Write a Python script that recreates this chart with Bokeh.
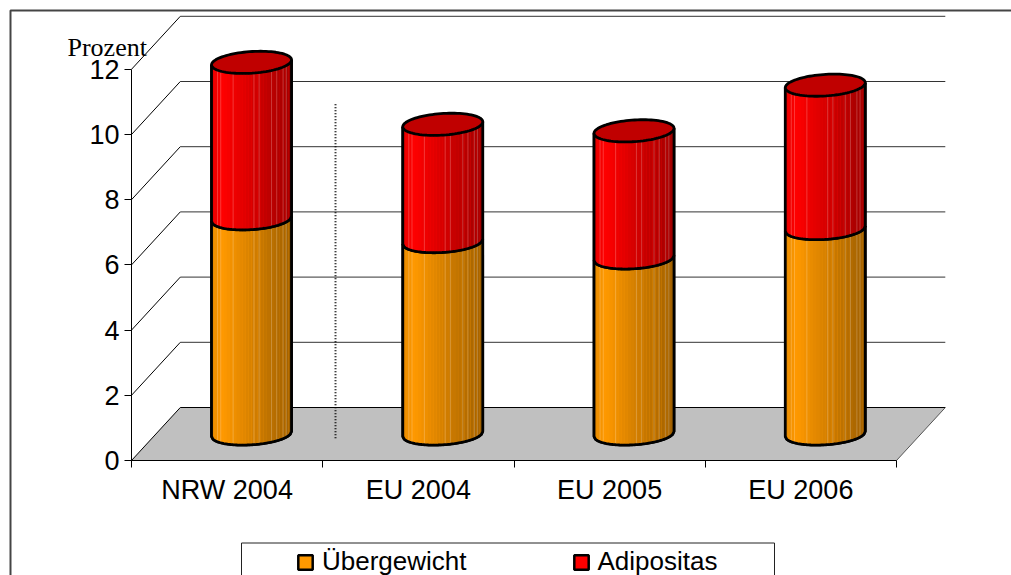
from bokeh.plotting import figure
from bokeh.models import (Range1d, LinearAxis, FixedTicker, Legend, LegendItem,
                          BoxAnnotation, Label)
from bokeh.embed import file_html
from bokeh.resources import INLINE
import numpy as np

categories = ["NRW 2004", "EU 2004", "EU 2005", "EU 2006"]
uebergewicht = [6.6, 5.9, 5.4, 6.3]
adipositas = [4.8, 3.6, 3.9, 4.4]
y_ticks = [0, 2, 4, 6, 8, 10, 12]
series_names = ["Übergewicht", "Adipositas"]
series_colors = [(255, 153, 0), (255, 0, 0)]
top_color = "#C00000"
separator_x = 1.0667
separator_y = (0.68, 10.93)

PX_U, PX_V = 191.25, 32.6          # pixels per category / per value unit
DEPTH_U, DEPTH_V = 48.8 / PX_U, 53.0 / PX_V
A_U, B_V, S_V = 40.0 / PX_U, 10.8 / PX_V, 2.5 / PX_V   # cylinder ellipse
N_STRIPS = 26
SEAMS = [-0.85, -0.77, -0.46, 0.06, 0.19, 0.5, 0.63, 0.79, 0.87]
W, H = 1011, 575
LEFT, BOTTOM = 131, 115

p = figure(width=W, height=H, output_backend="svg", toolbar_location=None,
           x_axis_type=None, y_axis_type=None,
           min_border_left=0, min_border_right=0, min_border_top=0,
           min_border_bottom=0,
           x_range=Range1d(-LEFT / PX_U, (W - LEFT) / PX_U),
           y_range=Range1d(-BOTTOM / PX_V, (H - BOTTOM) / PX_V))
p.outline_line_color = None
p.grid.visible = False
p.background_fill_color = "white"
p.border_fill_color = "white"

x_axis = LinearAxis(
    fixed_location=0,
    ticker=FixedTicker(ticks=[i + 0.5 for i in range(len(categories))],
                       minor_ticks=list(range(len(categories) + 1))),
    major_label_overrides={i + 0.5: c for i, c in enumerate(categories)},
    bounds=(0, len(categories)),
    major_tick_in=0, major_tick_out=0, minor_tick_in=0, minor_tick_out=7,
    major_label_text_font="Liberation Sans", major_label_text_font_size="27px",
    major_label_text_color="black", major_label_standoff=7,
    axis_line_color="black", minor_tick_line_color="black")
y_axis = LinearAxis(
    fixed_location=0,
    ticker=FixedTicker(ticks=y_ticks), bounds=(0, y_ticks[-1]),
    major_tick_in=0, major_tick_out=7, minor_tick_in=0, minor_tick_out=0,
    major_label_text_font="Liberation Sans", major_label_text_font_size="27px",
    major_label_text_color="black", major_label_standoff=5,
    axis_line_color="black", major_tick_line_color="black")
p.add_layout(x_axis, "below")
p.add_layout(y_axis, "left")

# floor
n = len(categories)
p.patch([0, n, n + DEPTH_U, DEPTH_U], [0, 0, DEPTH_V, DEPTH_V],
        fill_color="#C0C0C0", line_color=None)
p.multi_line([[DEPTH_U, n + DEPTH_U], [0, DEPTH_U], [n, n + DEPTH_U]],
             [[DEPTH_V, DEPTH_V], [0, DEPTH_V], [0, DEPTH_V]],
             line_color=["black", "black", "#555555"], line_width=1)

# walls
levels = y_ticks[1:]
p.multi_line([[DEPTH_U, n + DEPTH_U] for _ in levels],
             [[v + DEPTH_V, v + DEPTH_V] for v in levels],
             line_color="#333333", line_width=1)
p.multi_line([[0, DEPTH_U] for _ in levels],
             [[v, v + DEPTH_V] for v in levels],
             line_color="black", line_width=1)

# separator
p.line([separator_x, separator_x], list(separator_y),
       line_color="black", line_width=2, line_dash="1 2")


def lower_arc(u):
    """vertical offset (value units) of the near side of the ellipse at u in [-1, 1]"""
    return S_V * u - B_V * np.sqrt(np.clip(1 - u * u, 0, 1))


def shade(t):
    return np.interp(t, [0, 0.14, 0.45, 1], [0.90, 1.0, 0.86, 0.62])


def to_hex(c, f):
    return "#%02x%02x%02x" % tuple(int(round(v * f)) for v in c)


bottoms = [0.0] * n
stack = [uebergewicht, adipositas]
legend_items = []
for name, col, vals in zip(series_names, series_colors, stack):
    body_xs, body_ys, strip_xs, strip_ys, strip_cols = [], [], [], [], []
    line_xs, line_ys, seam_xs, seam_ys = [], [], [], []
    for i in range(n):
        cx = i + 0.5 + DEPTH_U / 2
        v0, v1 = bottoms[i], bottoms[i] + vals[i]
        us_all = np.linspace(-1, 1, 60)
        xs = cx + A_U * us_all
        base = v0 + DEPTH_V / 2 + lower_arc(us_all)
        top = v1 + DEPTH_V / 2 + lower_arc(us_all)
        body_xs.append(np.r_[xs, xs[::-1]])
        body_ys.append(np.r_[base, top[::-1]])
        edges = np.linspace(-1, 1, N_STRIPS + 1)
        for a, b in zip(edges[:-1], edges[1:]):
            us = np.linspace(a, b, 5)
            xx = cx + A_U * us
            lo = v0 + DEPTH_V / 2 + lower_arc(us)
            hi = v1 + DEPTH_V / 2 + lower_arc(us)
            strip_xs.append(np.r_[xx, xx[::-1]])
            strip_ys.append(np.r_[lo, hi[::-1]])
            strip_cols.append(to_hex(col, shade((a + b + 2) / 4)))
        for s in SEAMS:
            seam_xs.append([cx + A_U * s, cx + A_U * s])
            seam_ys.append([v0 + DEPTH_V / 2 + lower_arc(s), v1 + DEPTH_V / 2 + lower_arc(s)])
        # outline: sides and near bottom arc
        line_xs.append(np.r_[xs[0], xs, xs[-1]])
        line_ys.append(np.r_[top[0], base, top[-1]])
        bottoms[i] = v1
    r = p.patches(body_xs, body_ys, fill_color=to_hex(col, 1.0),
                  line_color="black", line_width=2.5)
    p.patches(strip_xs, strip_ys, fill_color=strip_cols, line_color=None)
    p.multi_line(seam_xs, seam_ys, line_color="white", line_alpha=0.22, line_width=1)
    p.multi_line(line_xs, line_ys, line_color="black", line_width=2.8)
    legend_items.append(LegendItem(label=name, renderers=[r]))

# top faces
t = np.linspace(0, 2 * np.pi, 90)
top_xs, top_ys = [], []
for i in range(n):
    cx = i + 0.5 + DEPTH_U / 2
    top_xs.append(cx + A_U * np.cos(t))
    top_ys.append(bottoms[i] + DEPTH_V / 2 + S_V * np.cos(t) + B_V * np.sin(t))
p.patches(top_xs, top_ys, fill_color=top_color, line_color="black", line_width=2.8)

# chart border and legend frame (canvas pixels)
p.add_layout(BoxAnnotation(left=10, right=W + 20, top=10, bottom=H + 20,
                           left_units="canvas", right_units="canvas",
                           top_units="canvas", bottom_units="canvas",
                           fill_alpha=0, line_color="#444444", line_alpha=1, line_width=2,
                           level="underlay"))
p.add_layout(BoxAnnotation(left=241, right=774, top=542.5, bottom=H + 20,
                           left_units="canvas", right_units="canvas",
                           top_units="canvas", bottom_units="canvas",
                           fill_color="white", fill_alpha=1,
                           line_color="#222222", line_alpha=1, line_width=1))

legend = Legend(items=legend_items, orientation="horizontal",
                location=(296, -2), padding=0, margin=0, spacing=105,
                glyph_width=18, glyph_height=18, label_standoff=8,
                label_text_font="Liberation Sans", label_text_font_size="26px",
                label_text_color="black", label_height=18,
                background_fill_alpha=0, border_line_alpha=0)
p.add_layout(legend, "center")

p.add_layout(Label(x=-64 / PX_U, y=(460 - 47) / PX_V, text="Prozent",
                   text_font="Liberation Serif", text_font_size="26px",
                   text_color="black", text_baseline="alphabetic"))

open("out.html", "w").write(file_html(p, INLINE))
